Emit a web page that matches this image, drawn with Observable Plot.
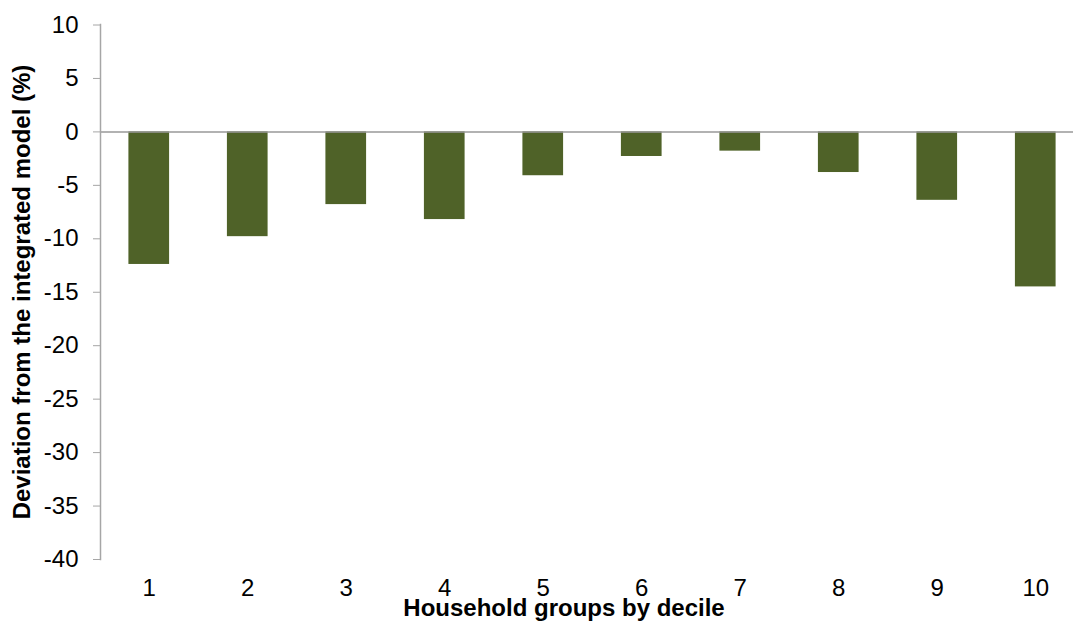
<!DOCTYPE html>
<html>
<head>
<meta charset="utf-8">
<script src="https://cdn.jsdelivr.net/npm/d3@7"></script>
<script src="https://cdn.jsdelivr.net/npm/@observablehq/plot@0.6"></script>
<style>
  html, body { margin: 0; padding: 0; background: #fff; }
  #chart svg { display: block; }
</style>
</head>
<body>
<div id="chart"></div>
<script>
// Household groups by income decile and their deviation (%) from the integrated model
const deciles = [1, 2, 3, 4, 5, 6, 7, 8, 9, 10];
const deviation = [-12.4, -9.8, -6.8, -8.2, -4.1, -2.3, -1.8, -3.8, -6.4, -14.5];
const yTicks = [10, 5, 0, -5, -10, -15, -20, -25, -30, -35, -40];
const yLabel = "Deviation from the integrated model (%)";
const xLabel = "Household groups by decile";

const data = deciles.map((d, i) => ({decile: d, value: deviation[i]}));

const chart = Plot.plot({
  width: 1073,
  height: 630,
  marginTop: 24,
  marginBottom: 71,
  marginLeft: 100,
  marginRight: 0,
  style: {fontFamily: "Arial, 'Liberation Sans', sans-serif", fontSize: "24px", color: "#000", background: "#fff"},
  x: {type: "band", domain: deciles, range: [99.5, 1084.5], paddingInner: 0.587, paddingOuter: 0.2935, round: false},
  y: {domain: [-40, 10], range: [559, 24.5]},
  marks: [
    Plot.barY(data, {x: "decile", y: "value", fill: "#4f6228"}),
    Plot.ruleY([0], {stroke: "#999999", strokeWidth: 1.5}),
    Plot.frame({anchor: "left", stroke: "#a6a6a6", strokeWidth: 1.5}),
    // plain hyphen-minus for negative tick labels
    Plot.axisY({ticks: yTicks, tickSize: 7, tickPadding: 15, tickFormat: (d) => String(d), stroke: "#a6a6a6", fill: "#000", fontSize: 24, label: null}),
    Plot.axisX({tickSize: 0, tickPadding: 19, fill: "#000", fontSize: 24, label: null}),
    Plot.text([yLabel], {frameAnchor: "left", textAnchor: "middle", lineAnchor: "middle", rotate: -90, dx: -78, fontWeight: "bold", fontSize: 24, fill: "#000"}),
    Plot.text([xLabel], {frameAnchor: "bottom", textAnchor: "middle", lineAnchor: "middle", dy: 48.5, dx: -23, fontWeight: "bold", fontSize: 24, fill: "#000"})
  ]
});

document.getElementById("chart").append(chart);
</script>
</body>
</html>
